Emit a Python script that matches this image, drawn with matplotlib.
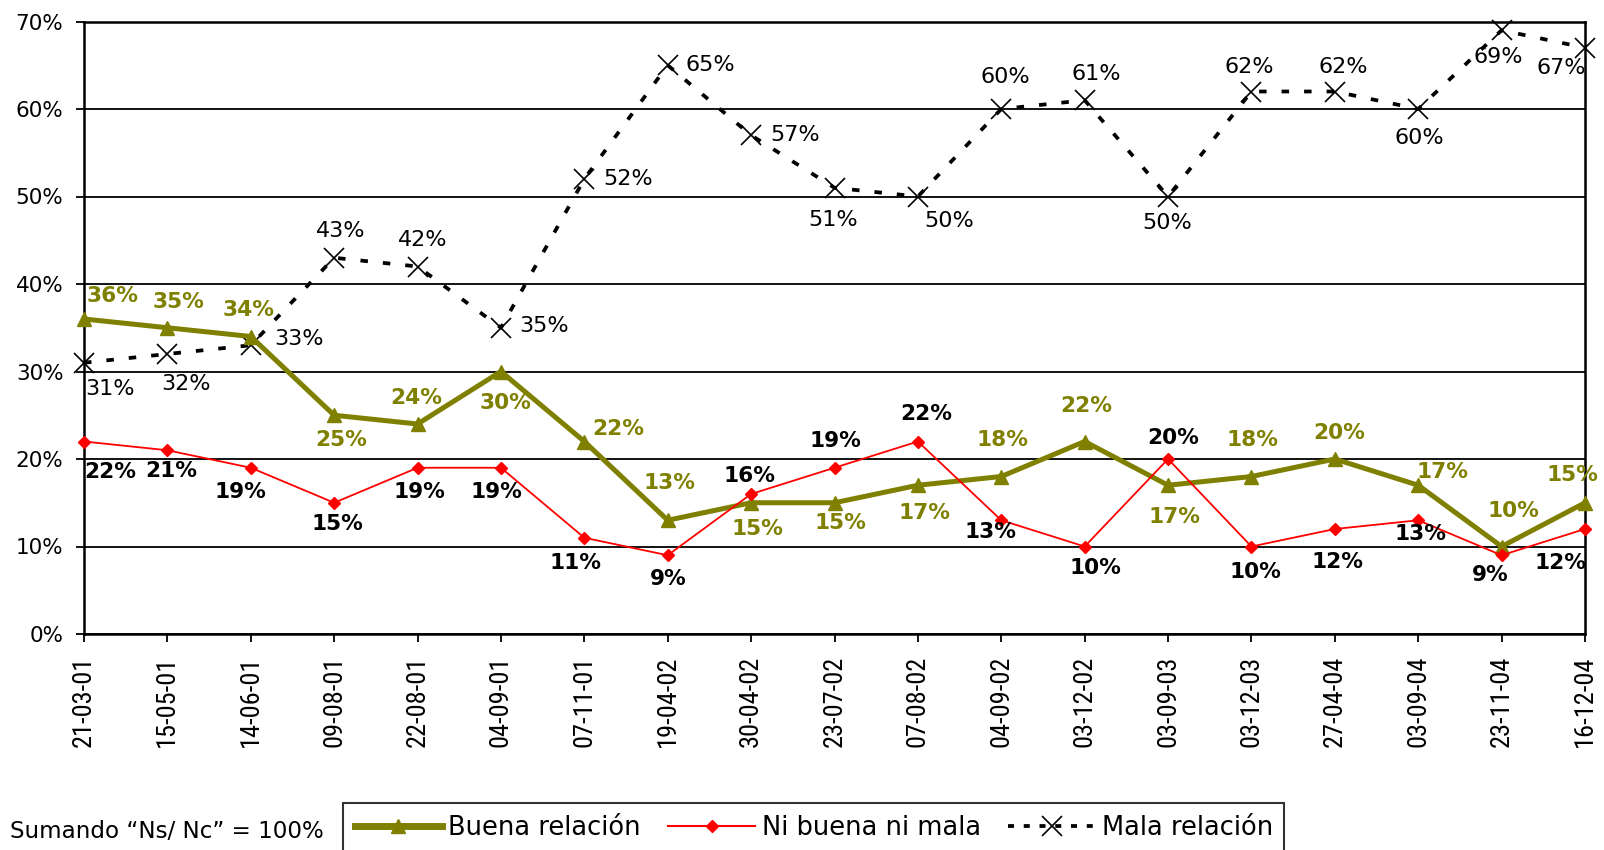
import matplotlib
matplotlib.use("Agg")
import matplotlib.pyplot as plt
from matplotlib.lines import Line2D
from matplotlib.ticker import MultipleLocator, FuncFormatter
from matplotlib import font_manager
from matplotlib.font_manager import FontProperties

plt.rcParams['font.family'] = ['DejaVu Sans']

dates = ["21-03-01", "15-05-01", "14-06-01", "09-08-01", "22-08-01", "04-09-01",
         "07-11-01", "19-04-02", "30-04-02", "23-07-02", "07-08-02", "04-09-02",
         "03-12-02", "03-09-03", "03-12-03", "27-04-04", "03-09-04", "23-11-04",
         "16-12-04"]
buena = [36, 35, 34, 25, 24, 30, 22, 13, 15, 15, 17, 18, 22, 17, 18, 20, 17, 10, 15]
ni = [22, 21, 19, 15, 19, 19, 11, 9, 16, 19, 22, 13, 10, 20, 10, 12, 13, 9, 12]
mala = [31, 32, 33, 43, 42, 35, 52, 65, 57, 51, 50, 60, 61, 50, 62, 62, 60, 69, 67]

# label offsets (image pixels, dx right, dy down)
off_buena = [(28, -22), (11, -25), (-2, -26), (7, 24), (-1, -25), (4, 31), (33, -12),
             (2, -36), (6, 26), (6, 20), (6, 27), (1, -36), (2, -35), (6, 31), (1, -36),
             (4, -25), (24, -13), (12, -35), (-12, -27)]
off_ni = [(26, 30), (4, 20), (-10, 24), (3, 21), (2, 24), (-4, 24), (-9, 25), (1, 23),
          (-2, -18), (1, -26), (8, -27), (-11, 11), (11, 21), (5, -21), (4, 25), (3, 32),
          (2, 13), (-11, 19), (-24, 33)]
off_mala = [(25, 26), (18, 29), (47, -6), (6, -26), (5, -26), (42, -2), (43, 0), (42, 0),
            (43, 0), (-1, 32), (31, 24), (4, -31), (11, -26), (-1, 26), (-2, -24), (8, -24),
            (1, 28), (-3, 26), (-23, 20)]

OLIVE = "#808000"
RED = "#FF0000"
S = 1604 / 1568

# pick a condensed face for the rotated date labels if one is installed
date_font = FontProperties(family="DejaVu Sans", size=14.5)
narrow_names = ["Liberation Sans Narrow", "Roboto Condensed", "Open Sans Condensed",
                "Arial Narrow"]
found = None
for nm in narrow_names:
    for f in font_manager.fontManager.ttflist:
        if f.name == nm and f.weight in (400, "normal", "regular") and f.style == "normal":
            found = (f.fname, 19)
            break
    if found:
        break
if not found:
    for f in font_manager.fontManager.ttflist:
        if (f.name in ("DejaVu Sans", "Roboto") and f.style == "normal"
                and f.weight in (400, "normal", "regular")
                and str(f.stretch) in ("condensed", "semi-condensed", "75", "87")):
            found = (f.fname, 16)
            break
if found:
    date_font = FontProperties(fname=found[0], size=found[1])

fig = plt.figure(figsize=(16.04, 8.5), dpi=100)
ax = fig.add_axes([84 / 1604, 1 - 634 / 850, (1585 - 84) / 1604, (634 - 21.5) / 850])

x = list(range(len(dates)))
ax.plot(x, mala, color="black", lw=2.7, linestyle=(0, (2.0, 4.0)), marker="x",
        markersize=15, markeredgewidth=1.2, clip_on=False, zorder=3)
ax.plot(x, buena, color=OLIVE, lw=3.6, marker="^", markersize=10, clip_on=False, zorder=4)
ax.plot(x, ni, color=RED, lw=1.3, marker="D", markersize=6.5, clip_on=False, zorder=5)

for i in x:
    dx, dy = off_buena[i]
    ax.annotate(f"{buena[i]}%", (i, buena[i]), xytext=(dx * S, -dy * S),
                textcoords="offset pixels", ha="center", va="center",
                fontsize=15.6, fontweight="bold", color=OLIVE, zorder=6)
    dx, dy = off_ni[i]
    ax.annotate(f"{ni[i]}%", (i, ni[i]), xytext=(dx * S, -dy * S),
                textcoords="offset pixels", ha="center", va="center",
                fontsize=15.6, fontweight="bold", color="black", zorder=6)
    dx, dy = off_mala[i]
    ax.annotate(f"{mala[i]}%", (i, mala[i]), xytext=(dx * S, -dy * S),
                textcoords="offset pixels", ha="center", va="center",
                fontsize=16, color="black", zorder=6)

ax.set_xlim(0, len(dates) - 1)
ax.set_ylim(0, 70)
ax.yaxis.set_major_locator(MultipleLocator(10))
ax.yaxis.set_major_formatter(FuncFormatter(lambda v, p: f"{int(v)}%"))
ax.set_xticks(x)
ax.set_xticklabels(dates, rotation=90, fontproperties=date_font)
ax.tick_params(axis="y", labelsize=15.5, length=5.8, width=1.3, direction="out", pad=9)
ax.tick_params(axis="x", length=5.8, width=1.3, direction="out", pad=10)
ax.grid(axis="y", color="black", lw=1.3)
ax.set_axisbelow(True)
for sp in ax.spines.values():
    sp.set_linewidth(1.8)
    sp.set_color("black")

handles = [
    Line2D([], [], color=OLIVE, lw=5, marker="^", markersize=10),
    Line2D([], [], color=RED, lw=1.5, marker="D", markersize=6.5),
    Line2D([], [], color="black", lw=2.7, linestyle=(0, (1.6, 2.6)), marker="x",
           markersize=15, markeredgewidth=1.2),
]
leg = fig.legend(handles, ["Buena relación", "Ni buena ni mala", "Mala relación"],
                 loc="upper left", bbox_to_anchor=(343 / 1604, 1 - 803 / 850), ncol=3,
                 fontsize=18.5, frameon=True, fancybox=False, edgecolor="black",
                 handlelength=3.4, handletextpad=0.25, columnspacing=1.05,
                 borderpad=0.45, borderaxespad=0)
leg.get_frame().set_linewidth(1.5)

fig.text(10 / 1604, 1 - 832 / 850, "Sumando \u201cNs/ Nc\u201d = 100%", fontsize=16.6,
         ha="left", va="center")

fig.savefig("out.png", dpi=100)
